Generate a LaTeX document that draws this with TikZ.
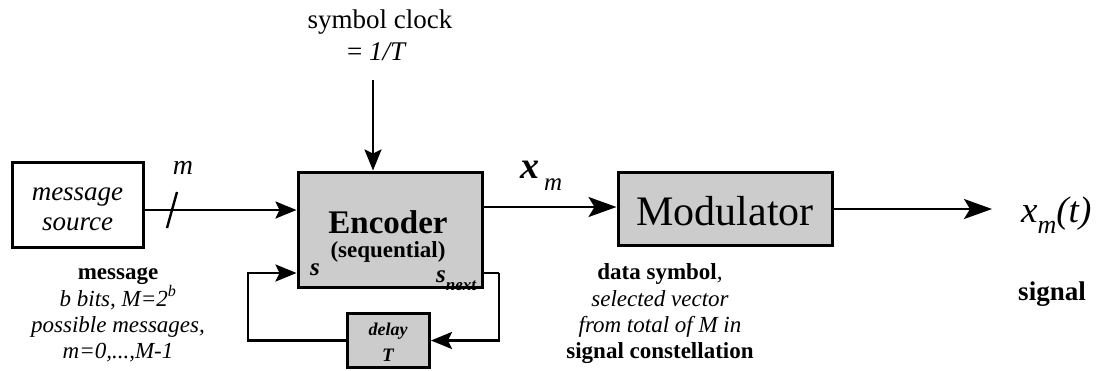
\documentclass[tikz,border=0pt]{standalone}
\usepackage{fontspec}
\setmainfont{Liberation Serif}
\usetikzlibrary{arrows.meta}
\definecolor{boxgray}{RGB}{204,204,204}
\newcommand{\fsz}[1]{\fontsize{#1}{#1}\selectfont}

\begin{document}
\begin{tikzpicture}[x=1pt,y=-1pt,
  blk/.style={draw, line width=3pt, inner sep=0pt},
  gblk/.style={blk, fill=boxgray},
  wire/.style={line width=2.4pt},
  arr/.style={wire, -{Stealth[length=21pt,width=17pt,inset=4pt]}},
  bigarr/.style={wire, -{Stealth[length=28pt,width=20pt,inset=6pt]}},
  txt/.style={inner sep=0pt, anchor=base}]
\useasboundingbox (0,0) rectangle (1101,370);

% blocks
\node[blk,  minimum width=131pt, minimum height=85pt]  (src) at (77.5,204.5) {};
\node[gblk, minimum width=184pt, minimum height=115pt] (enc) at (390,229.5) {};
\node[gblk, minimum width=214pt, minimum height=73pt]  (mod) at (725,208.5) {};
\node[gblk, minimum width=82pt,  minimum height=54pt]  (dly) at (388.5,340.5) {};

% block texts
\node[txt, font=\fsz{27}\itshape] (srcA) at (77.5,200) {message};
\node[txt, font=\fsz{27}\itshape] (srcB) at (77.5,230) {source};
\node[txt, font=\fsz{33}\bfseries] (encA) at (388,233) {Encoder};
\node[txt, font=\fsz{23}\bfseries] (encB) at (388,257) {(sequential)};
\node[txt, anchor=base west, font=\fsz{25}\bfseries\itshape] (encS) at (310,275) {s};
\node[txt, anchor=base west, font=\fsz{25}\bfseries\itshape] (encSn) at (436,282)
  {s\raisebox{-0.33em}{\fsz{17}next}};
\node[txt, font=\fsz{42}] (modT) at (725,225) {Modulator};
\node[txt, font=\fsz{18}\bfseries\itshape] (dlyA) at (388,335) {delay};
\node[txt, font=\fsz{19}\bfseries\itshape] (dlyB) at (388,361) {T};

% clock input
\node[txt, font=\fsz{27}] (clkA) at (380,28) {symbol clock};
\node[txt, font=\fsz{27}] (clkB) at (377,60) {= \textit{1/T}};
\coordinate (clk) at (373,80);
\draw[arr] (clk) -- (clk |- enc.north);

% message into the encoder, with bus slash
\draw[arr] ([yshift=-5.5pt]src.east) -- (enc.west |- 0,210);
\coordinate (slA) at (167,228);
\coordinate (slB) at (177,192);
\draw[wire] (slA) -- (slB);
\node[txt, font=\fsz{28}\itshape] (mlbl) at (183,174) {m};

% state feedback through the delay
\coordinate (snx) at (499,273);
\coordinate (sfb) at (248,273);
\draw[wire] (enc.east |- snx) -- (snx);
\draw[arr] (snx) |- (dly.east);
\draw[arr] (dly.west) -| (sfb) -- (enc.west |- sfb);

% encoder to modulator to output
\draw[bigarr] (enc.east |- 0,207) -- (mod.west |- 0,207);
\coordinate (outp) at (992,209);
\draw[bigarr] (mod.east |- outp) -- (outp);

% output symbol labels
\node[txt, font=\fsz{38}\bfseries\itshape] (xm) at (530,178) {x};
\node[txt, anchor=base west, font=\fsz{25}\itshape] (xmsub) at (544,190) {m};
\node[txt, anchor=base west, font=\fsz{37}\itshape] (xmt) at (1021,222)
  {x\raisebox{-0.3em}{\fsz{26}m}(t)};
\node[txt, font=\fsz{27}\bfseries] (sig) at (1052,300) {signal};

% message description
\node[txt, font=\fsz{23}\bfseries] (msgA) at (118,279) {message};
\node[txt, font=\fsz{23}\itshape] (msgB) at (118,306) {b bits, M=2\textsuperscript{b}};
\node[txt, font=\fsz{23}\itshape] (msgC) at (118,332) {possible messages,};
\node[txt, font=\fsz{23}\itshape] (msgD) at (118,358) {m=0,...,M-1};

% data symbol description
\node[txt, font=\fsz{23}\itshape] (dsA) at (660,279) {\textbf{\textup{data symbol}},};
\node[txt, font=\fsz{23}\itshape] (dsB) at (660,306) {selected vector};
\node[txt, font=\fsz{23}\itshape] (dsC) at (660,332) {from total of M in};
\node[txt, font=\fsz{23}\bfseries] (dsD) at (660,358) {signal constellation};
\end{tikzpicture}
\end{document}
